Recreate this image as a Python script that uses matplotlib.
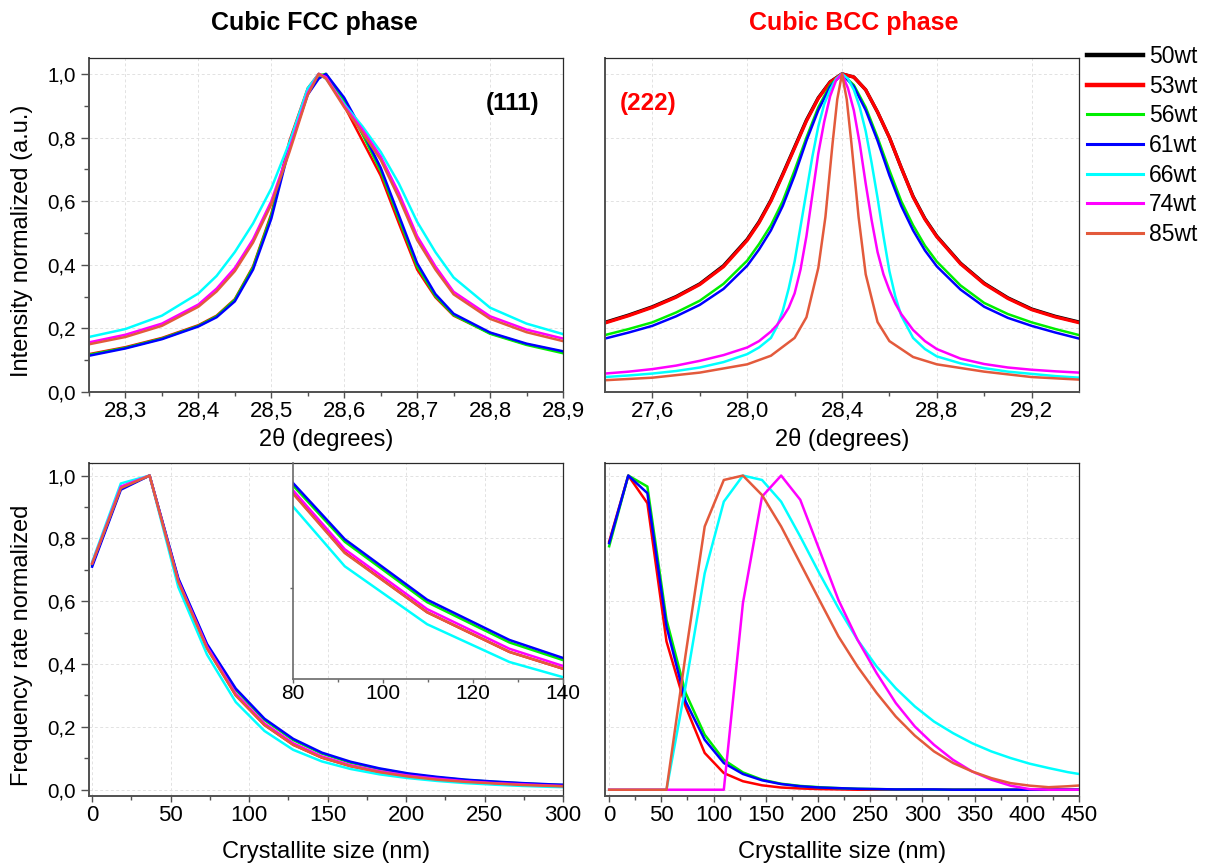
import matplotlib
matplotlib.use('Agg')
import matplotlib.pyplot as plt
from matplotlib.ticker import MultipleLocator, FuncFormatter, FixedLocator, NullLocator
from matplotlib.lines import Line2D

plt.rcParams['font.family'] = ['Liberation Sans', 'DejaVu Sans']

# ---------------- data ----------------
series_labels = ['50wt', '53wt', '56wt', '61wt', '66wt', '74wt', '85wt']
series_colors = ['#000000', '#ff0000', '#00ee00', '#0000ff', '#00ffff', '#ff00ff', '#e35a3c']

# FCC (111) peak
fcc_2theta = [28.25, 28.30, 28.35, 28.40, 28.425, 28.45, 28.475, 28.50, 28.525, 28.55, 28.565,
              28.575, 28.60, 28.625, 28.65, 28.675, 28.70, 28.725, 28.75, 28.80, 28.85, 28.90]
fcc_53wt = [0.119, 0.141, 0.170, 0.210, 0.240, 0.292, 0.395, 0.560, 0.790, 0.955, 1.000, 0.990,
            0.900, 0.790, 0.680, 0.530, 0.385, 0.298, 0.240, 0.185, 0.150, 0.126]
fcc_56wt = [0.117, 0.139, 0.168, 0.208, 0.238, 0.290, 0.392, 0.555, 0.780, 0.940, 0.995, 1.000,
            0.915, 0.810, 0.695, 0.545, 0.395, 0.302, 0.242, 0.183, 0.148, 0.122]
fcc_61wt = [0.114, 0.137, 0.166, 0.206, 0.235, 0.285, 0.385, 0.545, 0.770, 0.935, 0.985, 1.000,
            0.925, 0.820, 0.705, 0.555, 0.405, 0.308, 0.246, 0.187, 0.152, 0.128]
fcc_66wt = [0.173, 0.198, 0.240, 0.310, 0.365, 0.440, 0.530, 0.640, 0.785, 0.955, 1.000, 0.985,
            0.905, 0.835, 0.755, 0.655, 0.535, 0.440, 0.360, 0.265, 0.215, 0.182]
fcc_74wt = [0.156, 0.180, 0.215, 0.275, 0.325, 0.390, 0.480, 0.600, 0.765, 0.940, 1.000, 0.990,
            0.900, 0.825, 0.740, 0.625, 0.490, 0.395, 0.315, 0.238, 0.196, 0.168]
fcc_85wt = [0.150, 0.173, 0.208, 0.268, 0.316, 0.380, 0.470, 0.590, 0.755, 0.934, 1.000, 0.985,
            0.895, 0.815, 0.730, 0.610, 0.478, 0.385, 0.307, 0.230, 0.188, 0.160]

# BCC (222) peak
bcc_2theta = [27.4, 27.5, 27.6, 27.7, 27.8, 27.9, 28.0, 28.05, 28.1, 28.15, 28.2, 28.25, 28.3,
              28.35, 28.4, 28.45, 28.5, 28.55, 28.6, 28.65, 28.7, 28.75, 28.8, 28.9, 29.0,
              29.1, 29.2, 29.3, 29.4]
bcc_50wt = [0.219, 0.242, 0.268, 0.300, 0.340, 0.397, 0.480, 0.535, 0.603, 0.685, 0.770, 0.855,
            0.925, 0.975, 1.000, 0.990, 0.950, 0.880, 0.800, 0.705, 0.615, 0.545, 0.490, 0.405,
            0.342, 0.296, 0.261, 0.238, 0.220]
bcc_53wt = [0.217, 0.240, 0.266, 0.298, 0.338, 0.394, 0.477, 0.532, 0.600, 0.682, 0.767, 0.852,
            0.923, 0.974, 1.000, 0.990, 0.950, 0.880, 0.800, 0.705, 0.613, 0.543, 0.488, 0.403,
            0.340, 0.294, 0.259, 0.236, 0.218]
bcc_56wt = [0.179, 0.198, 0.219, 0.250, 0.287, 0.340, 0.413, 0.465, 0.524, 0.600, 0.697, 0.800,
            0.895, 0.965, 1.000, 0.965, 0.895, 0.800, 0.697, 0.600, 0.524, 0.460, 0.410, 0.335,
            0.280, 0.245, 0.219, 0.198, 0.179]
bcc_61wt = [0.168, 0.187, 0.208, 0.238, 0.274, 0.324, 0.397, 0.448, 0.508, 0.585, 0.681, 0.790,
            0.886, 0.960, 1.000, 0.960, 0.886, 0.790, 0.681, 0.585, 0.508, 0.445, 0.395, 0.322,
            0.268, 0.233, 0.208, 0.187, 0.168]
bcc_2theta_narrow = [27.4, 27.5, 27.6, 27.7, 27.8, 27.9, 28.0, 28.05, 28.1, 28.125, 28.15,
                     28.175, 28.2, 28.225, 28.25, 28.275, 28.3, 28.325, 28.35, 28.375, 28.4,
                     28.425, 28.45, 28.475, 28.5, 28.525, 28.55, 28.575, 28.6, 28.625, 28.65,
                     28.7, 28.75, 28.8, 28.9, 29.0, 29.1, 29.2, 29.3, 29.4]
bcc_66wt = [0.047, 0.052, 0.058, 0.066, 0.077, 0.094, 0.119, 0.140, 0.170, 0.205, 0.255,
            0.325, 0.410, 0.520, 0.630, 0.740, 0.835, 0.905, 0.950, 0.985, 1.000,
            0.985, 0.950, 0.895, 0.820, 0.720, 0.610, 0.490, 0.380, 0.300, 0.240,
            0.170, 0.135, 0.112, 0.090, 0.075, 0.064, 0.057, 0.050, 0.045]
bcc_74wt = [0.058, 0.064, 0.072, 0.083, 0.098, 0.116, 0.140, 0.160, 0.190, 0.210, 0.235,
            0.265, 0.310, 0.385, 0.490, 0.620, 0.750, 0.850, 0.930, 0.980, 1.000,
            0.955, 0.885, 0.780, 0.655, 0.540, 0.440, 0.370, 0.320, 0.278, 0.245,
            0.195, 0.160, 0.135, 0.105, 0.088, 0.077, 0.070, 0.065, 0.061]
bcc_2theta_85 = [27.4, 27.6, 27.8, 28.0, 28.1, 28.2, 28.25, 28.3, 28.33, 28.36, 28.38, 28.4,
                 28.42, 28.44, 28.47, 28.5, 28.55, 28.6, 28.7, 28.8, 29.0, 29.2, 29.4]
bcc_85wt = [0.037, 0.045, 0.061, 0.087, 0.114, 0.170, 0.235, 0.390, 0.550, 0.780, 0.920, 1.000,
            0.920, 0.780, 0.550, 0.370, 0.220, 0.160, 0.110, 0.087, 0.064, 0.047, 0.039]

# Crystallite size distributions
size_nm = [0, 18.3, 36.6, 54.9, 73.2, 91.5, 109.8, 128.1, 146.4, 164.7, 183.0, 201.3, 219.6,
           237.9, 256.2, 274.5, 292.8, 311.1, 329.4, 347.7, 366.0, 384.3, 402.6, 420.9,
           439.2, 457.5]

fcc_size_53wt = [0.720, 0.962, 1.000, 0.663, 0.451, 0.301, 0.206, 0.143, 0.102, 0.075, 0.056,
                 0.042, 0.032, 0.025, 0.020, 0.015, 0.012, 0.009]
fcc_size_56wt = [0.715, 0.960, 1.000, 0.670, 0.460, 0.318, 0.222, 0.158, 0.115, 0.086, 0.066,
                 0.050, 0.039, 0.031, 0.025, 0.020, 0.016, 0.013]
fcc_size_61wt = [0.710, 0.955, 1.000, 0.673, 0.464, 0.322, 0.226, 0.162, 0.118, 0.089, 0.068,
                 0.052, 0.041, 0.032, 0.026, 0.021, 0.017, 0.014]
fcc_size_66wt = [0.725, 0.975, 1.000, 0.645, 0.430, 0.279, 0.187, 0.127, 0.090, 0.066, 0.049,
                 0.037, 0.028, 0.021, 0.016, 0.012, 0.009, 0.007]
fcc_size_74wt = [0.720, 0.965, 1.000, 0.665, 0.455, 0.306, 0.211, 0.148, 0.106, 0.078, 0.059,
                 0.045, 0.035, 0.027, 0.021, 0.017, 0.013, 0.010]
fcc_size_85wt = [0.720, 0.960, 1.000, 0.662, 0.450, 0.300, 0.206, 0.143, 0.102, 0.075, 0.056,
                 0.042, 0.032, 0.025, 0.020, 0.015, 0.012, 0.009]

bcc_size_53wt = [0.790, 1.000, 0.912, 0.472, 0.265, 0.117, 0.053, 0.027, 0.014, 0.007, 0.004,
                 0.002, 0.001, 0, 0, 0, 0, 0, 0, 0, 0, 0, 0, 0, 0, 0]
bcc_size_56wt = [0.775, 1.000, 0.965, 0.541, 0.308, 0.175, 0.095, 0.055, 0.032, 0.019, 0.012,
                 0.008, 0.005, 0.003, 0.002, 0.001, 0.001, 0, 0, 0, 0, 0, 0, 0, 0, 0]
bcc_size_61wt = [0.785, 1.000, 0.944, 0.520, 0.281, 0.159, 0.085, 0.050, 0.030, 0.018, 0.011,
                 0.007, 0.005, 0.003, 0.002, 0.001, 0.001, 0.001, 0, 0, 0, 0, 0, 0, 0, 0]
bcc_size_66wt = [0, 0, 0, 0, 0.330, 0.689, 0.917, 1.000, 0.986, 0.917, 0.806, 0.689, 0.578,
                 0.477, 0.392, 0.323, 0.265, 0.217, 0.180, 0.148, 0.122, 0.101, 0.083, 0.069,
                 0.056, 0.046]
bcc_size_74wt = [0, 0, 0, 0, 0, 0, 0, 0.594, 0.933, 1.000, 0.923, 0.764, 0.604, 0.477, 0.371,
                 0.276, 0.201, 0.143, 0.095, 0.058, 0.032, 0.013, 0.002, 0, 0, 0]
bcc_size_85wt = [0, 0, 0, 0, 0.430, 0.838, 0.986, 1.000, 0.938, 0.838, 0.721, 0.604, 0.488,
                 0.392, 0.308, 0.233, 0.172, 0.122, 0.085, 0.058, 0.037, 0.021, 0.013, 0.008,
                 0.011, 0.015]

# ---------------- figure ----------------
W, H = 1209, 868
fig = plt.figure(figsize=(W / 100, H / 100), dpi=100)


def px_axes(left, right, top, bottom):
    return fig.add_axes([left / W, 1 - bottom / H, (right - left) / W, (bottom - top) / H])


ax_tl = px_axes(89, 563, 58, 392)
ax_tr = px_axes(605, 1079, 58, 392)
ax_bl = px_axes(89, 563, 463, 796)
ax_br = px_axes(605, 1079, 463, 796)

comma1 = FuncFormatter(lambda v, p: f"{v:.1f}".replace('.', ','))
intfmt = FuncFormatter(lambda v, p: f"{v:.0f}")

SP_LB = '#505050'
SP_TR = '#2a2a2a'
XT_SIZE = 16
YT_SIZE = 14.8
LAB_SIZE = 17


def style(ax, ylabels=True):
    for s in ('left', 'bottom'):
        ax.spines[s].set_color(SP_LB)
        ax.spines[s].set_linewidth(1.4)
    for s in ('top', 'right'):
        ax.spines[s].set_color(SP_TR)
        ax.spines[s].set_linewidth(0.9)
    ax.grid(True, which='major', linestyle=(0, (3, 2.5)), color='#e2e2e2', linewidth=0.7)
    ax.set_axisbelow(True)
    ax.tick_params(axis='x', which='major', direction='out', length=4.5, width=1.0,
                   color=SP_LB, labelsize=XT_SIZE, pad=2)
    ax.tick_params(axis='x', which='minor', direction='out', length=3, width=1.0, color=SP_LB)
    if ylabels:
        ax.tick_params(axis='y', which='major', direction='out', length=5.5, width=1.0,
                       color=SP_LB, labelsize=YT_SIZE, pad=4)
        ax.tick_params(axis='y', which='minor', direction='out', length=3.5, width=1.0,
                       color=SP_LB)
    else:
        ax.tick_params(axis='y', which='both', length=0, labelleft=False)
    ax.tick_params(top=False, right=False)


lw_thin = 1.8
lw_thick = 2.4

# ---- top-left: FCC (111)
for ys, lab in zip([fcc_53wt, fcc_56wt, fcc_61wt, fcc_66wt, fcc_74wt, fcc_85wt],
                   series_labels[1:]):
    ax_tl.plot(fcc_2theta, ys, color=series_colors[series_labels.index(lab)], lw=lw_thin)
ax_tl.set_xlim(28.25, 28.9)
ax_tl.set_ylim(0, 1.05)
ax_tl.xaxis.set_major_locator(MultipleLocator(0.1))
ax_tl.xaxis.set_minor_locator(MultipleLocator(0.05))
ax_tl.yaxis.set_major_locator(MultipleLocator(0.2))
ax_tl.yaxis.set_minor_locator(MultipleLocator(0.1))
ax_tl.xaxis.set_major_formatter(comma1)
ax_tl.yaxis.set_major_formatter(comma1)
style(ax_tl)
ax_tl.set_xlabel('2θ (degrees)', fontsize=LAB_SIZE)
ax_tl.set_ylabel('Intensity normalized (a.u.)', fontsize=LAB_SIZE)
ax_tl.xaxis.set_label_coords(0.5, -0.108)
ax_tl.yaxis.set_label_coords(-0.118, 0.452)
ax_tl.text(0.894, 0.865, '(111)', transform=ax_tl.transAxes, ha='center', va='center',
           fontsize=17.5, fontweight='bold', color='black')

# ---- top-right: BCC (222)
for ys, lab in zip([bcc_50wt, bcc_53wt, bcc_56wt, bcc_61wt], series_labels[:4]):
    i = series_labels.index(lab)
    ax_tr.plot(bcc_2theta, ys, color=series_colors[i], lw=lw_thick if i < 2 else lw_thin)
for ys, lab in zip([bcc_66wt, bcc_74wt], series_labels[4:6]):
    ax_tr.plot(bcc_2theta_narrow, ys, color=series_colors[series_labels.index(lab)], lw=lw_thin)
ax_tr.plot(bcc_2theta_85, bcc_85wt, color=series_colors[6], lw=lw_thin)
ax_tr.set_xlim(27.4, 29.4)
ax_tr.set_ylim(0, 1.05)
ax_tr.set_xticks([27.6, 28.0, 28.4, 28.8, 29.2])
ax_tr.set_xticks([27.8, 28.2, 28.6, 29.0], minor=True)
ax_tr.yaxis.set_major_locator(MultipleLocator(0.2))
ax_tr.xaxis.set_major_formatter(comma1)
style(ax_tr, ylabels=False)
ax_tr.set_xlabel('2θ (degrees)', fontsize=LAB_SIZE)
ax_tr.xaxis.set_label_coords(0.5, -0.108)
ax_tr.text(0.091, 0.865, '(222)', transform=ax_tr.transAxes, ha='center', va='center',
           fontsize=17.5, fontweight='bold', color='#ff0000')

# ---- bottom-left: FCC crystallite size
fcc_size_series = [fcc_size_53wt, fcc_size_56wt, fcc_size_61wt, fcc_size_66wt,
                   fcc_size_74wt, fcc_size_85wt]
n_fcc = len(fcc_size_53wt)
for ys, lab in zip(fcc_size_series, series_labels[1:]):
    ax_bl.plot(size_nm[:n_fcc], ys, color=series_colors[series_labels.index(lab)], lw=lw_thin)
ax_bl.set_xlim(-2, 300)
ax_bl.set_ylim(-0.02, 1.04)
ax_bl.xaxis.set_major_locator(MultipleLocator(50))
ax_bl.xaxis.set_minor_locator(MultipleLocator(25))
ax_bl.yaxis.set_major_locator(MultipleLocator(0.2))
ax_bl.yaxis.set_minor_locator(MultipleLocator(0.1))
ax_bl.xaxis.set_major_formatter(intfmt)
ax_bl.yaxis.set_major_formatter(comma1)
style(ax_bl)
ax_bl.set_xlabel('Crystallite size (nm)', fontsize=LAB_SIZE)
ax_bl.set_ylabel('Frequency rate normalized', fontsize=LAB_SIZE)
ax_bl.xaxis.set_label_coords(0.5, -0.135)
ax_bl.yaxis.set_label_coords(-0.118, 0.453)

# inset
ins = px_axes(293, 563, 463, 679)
ins.patch.set_alpha(0)
for ys, lab in zip(fcc_size_series, series_labels[1:]):
    ins.plot(size_nm[:n_fcc], ys, color=series_colors[series_labels.index(lab)], lw=lw_thin)
ins.set_xlim(80, 140)
ins.set_ylim(0.10, 0.443)
ins.spines['top'].set_visible(False)
ins.spines['right'].set_visible(False)
for s in ('left', 'bottom'):
    ins.spines[s].set_color('#6a6a6a')
    ins.spines[s].set_linewidth(1.2)
ins.xaxis.set_major_locator(MultipleLocator(20))
ins.xaxis.set_minor_locator(MultipleLocator(10))
ins.xaxis.set_major_formatter(intfmt)
ins.yaxis.set_major_locator(NullLocator())
ins.yaxis.set_minor_locator(FixedLocator([0.245]))
ins.tick_params(axis='x', which='major', direction='out', length=3, width=1.0,
                color='#6a6a6a', labelsize=15, pad=0.5)
ins.tick_params(axis='x', which='minor', direction='out', length=2, width=1.0, color='#6a6a6a')
ins.tick_params(axis='y', which='minor', direction='out', length=2, width=1.0, color='#6a6a6a')

# ---- bottom-right: BCC crystallite size
bcc_size_series = [bcc_size_53wt, bcc_size_56wt, bcc_size_61wt, bcc_size_66wt,
                   bcc_size_74wt, bcc_size_85wt]
for ys, lab in zip(bcc_size_series, series_labels[1:]):
    ax_br.plot(size_nm, ys, color=series_colors[series_labels.index(lab)], lw=lw_thin)
ax_br.set_xlim(-4, 450)
ax_br.set_ylim(-0.02, 1.04)
ax_br.xaxis.set_major_locator(MultipleLocator(50))
ax_br.xaxis.set_minor_locator(MultipleLocator(25))
ax_br.yaxis.set_major_locator(MultipleLocator(0.2))
ax_br.xaxis.set_major_formatter(intfmt)
style(ax_br, ylabels=False)
ax_br.set_xlabel('Crystallite size (nm)', fontsize=LAB_SIZE)
ax_br.xaxis.set_label_coords(0.5, -0.135)

# titles
fig.text(314 / W, 1 - 23 / H, 'Cubic FCC phase', ha='center', va='center', fontsize=18,
         fontweight='bold', color='black')
fig.text(854 / W, 1 - 23 / H, 'Cubic BCC phase', ha='center', va='center', fontsize=18,
         fontweight='bold', color='#ff0000')

# legend
handles = [Line2D([], [], color=c, lw=(3.2 if i < 2 else 2.2))
           for i, c in enumerate(series_colors)]
fig.legend(handles, series_labels, loc='upper left', bbox_to_anchor=(1087 / W, 1 - 45 / H),
           frameon=False, borderpad=0, borderaxespad=0, handlelength=2.45, handletextpad=0.25,
           labelspacing=0.29, fontsize=16.5)

fig.savefig('out.png', dpi=100)
